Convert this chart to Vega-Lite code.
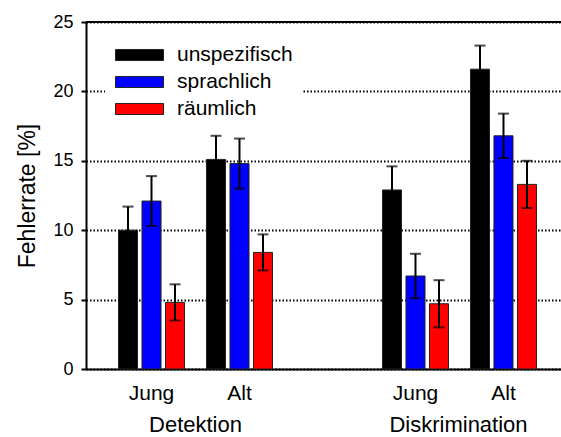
{
  "$schema": "https://vega.github.io/schema/vega-lite/v6.json",
  "width": 475,
  "height": 347,
  "autosize": {"type": "none"},
  "padding": {"left": 86, "top": 22, "right": 0, "bottom": 68},
  "background": "white",
  "config": {"font": "Liberation Sans", "view": {"stroke": null}},
  "datasets": {
    "rates": [
      {"cond": "Detektion Jung", "series": "unspezifisch", "mean": 10.0, "lo": 8.3, "hi": 11.7},
      {"cond": "Detektion Jung", "series": "sprachlich", "mean": 12.1, "lo": 10.3, "hi": 13.9},
      {"cond": "Detektion Jung", "series": "räumlich", "mean": 4.8, "lo": 3.5, "hi": 6.1},
      {"cond": "Detektion Alt", "series": "unspezifisch", "mean": 15.1, "lo": 13.4, "hi": 16.8},
      {"cond": "Detektion Alt", "series": "sprachlich", "mean": 14.8, "lo": 13.0, "hi": 16.6},
      {"cond": "Detektion Alt", "series": "räumlich", "mean": 8.4, "lo": 7.1, "hi": 9.7},
      {"cond": "Diskrimination Jung", "series": "unspezifisch", "mean": 12.9, "lo": 11.2, "hi": 14.6},
      {"cond": "Diskrimination Jung", "series": "sprachlich", "mean": 6.7, "lo": 5.1, "hi": 8.3},
      {"cond": "Diskrimination Jung", "series": "räumlich", "mean": 4.7, "lo": 3.0, "hi": 6.4},
      {"cond": "Diskrimination Alt", "series": "unspezifisch", "mean": 21.6, "lo": 19.9, "hi": 23.3},
      {"cond": "Diskrimination Alt", "series": "sprachlich", "mean": 16.8, "lo": 15.2, "hi": 18.4},
      {"cond": "Diskrimination Alt", "series": "räumlich", "mean": 13.3, "lo": 11.6, "hi": 15.0}
    ],
    "groups": [{"group": "Detektion"}, {"group": "Diskrimination"}]
  },
  "layer": [
    {
      "data": {"name": "rates"},
      "encoding": {
        "x": {
          "field": "cond",
          "type": "nominal",
          "sort": null,
          "scale": {
            "domain": ["Detektion Jung", "Detektion Alt", " ", "Diskrimination Jung", "Diskrimination Alt"],
            "paddingInner": 0.199,
            "paddingOuter": 0.2985,
            "align": 0.576
          },
          "axis": {
            "title": null,
            "labelExpr": "split(datum.label, ' ')[1]",
            "ticks": false,
            "tickSize": 0,
            "grid": false,
            "domainColor": "black",
            "domainWidth": 2,
            "labelFontSize": 21,
            "labelColor": "black",
            "labelPadding": 13,
            "labelAngle": 0
          }
        },
        "xOffset": {
          "field": "series",
          "type": "nominal",
          "scale": {"domain": ["unspezifisch", "sprachlich", "räumlich"], "paddingInner": 0.19, "paddingOuter": 0.095}
        }
      },
      "layer": [
        {
          "mark": {"type": "bar", "stroke": "#222", "strokeWidth": 1},
          "encoding": {
            "y": {
              "field": "mean",
              "type": "quantitative",
              "title": "Fehlerrate [%]",
              "scale": {"domain": [0, 25], "nice": false},
              "axis": {
                "values": [0, 5, 10, 15, 20, 25],
                "grid": true,
                "gridDash": [1.5, 2],
                "gridColor": "black",
                "gridWidth": 2,
                "gridOpacity": 1,
                "domainColor": "black",
                "domainWidth": 2,
                "tickColor": "black",
                "tickWidth": 2,
                "tickSize": 5,
                "labelFontSize": 18,
                "labelColor": "black",
                "labelPadding": 8,
                "titleFontSize": 23,
                "titleFontWeight": "normal",
                "titleColor": "black",
                "titlePadding": 13
              }
            },
            "color": {
              "field": "series",
              "type": "nominal",
              "scale": {"domain": ["unspezifisch", "sprachlich", "räumlich"], "range": ["#000000", "#0000ff", "#ff0000"]},
              "legend": {
                "title": null,
                "orient": "none",
                "legendX": 19,
                "legendY": 13,
                "fillColor": "white",
                "padding": 10,
                "symbolType": "M-1,-0.23H1V0.23H-1Z",
                "symbolSize": 2304,
                "symbolStrokeColor": "#222",
                "symbolStrokeWidth": 1,
                "symbolOpacity": 1,
                "clipHeight": 20,
                "rowPadding": 6,
                "labelFontSize": 21,
                "labelColor": "black",
                "labelOffset": 13,
                "labelLimit": 300
              }
            }
          }
        },
        {
          "mark": {"type": "rule", "color": "black", "strokeWidth": 2},
          "encoding": {
            "y": {"field": "lo", "type": "quantitative", "title": "Fehlerrate [%]"},
            "y2": {"field": "hi"}
          }
        },
        {
          "mark": {"type": "tick", "color": "black", "size": 11, "thickness": 2},
          "encoding": {"y": {"field": "hi", "type": "quantitative", "title": "Fehlerrate [%]"}}
        },
        {
          "mark": {"type": "tick", "color": "black", "size": 11, "thickness": 2},
          "encoding": {"y": {"field": "lo", "type": "quantitative", "title": "Fehlerrate [%]"}}
        }
      ]
    },
    {
      "data": {"values": [{}]},
      "mark": {"type": "rule", "color": "black", "strokeWidth": 2},
      "encoding": {"y": {"datum": 25}}
    },
    {
      "data": {"name": "groups"},
      "mark": {"type": "text", "baseline": "top", "dy": 46, "fontSize": 22, "color": "black"},
      "encoding": {
        "x": {
          "field": "group",
          "type": "nominal",
          "scale": {"type": "point", "domain": ["Detektion", "Diskrimination"], "padding": 0.403, "align": 0.5165},
          "axis": null
        },
        "y": {"datum": 0},
        "text": {"field": "group"}
      }
    }
  ],
  "resolve": {"scale": {"x": "independent"}}
}
